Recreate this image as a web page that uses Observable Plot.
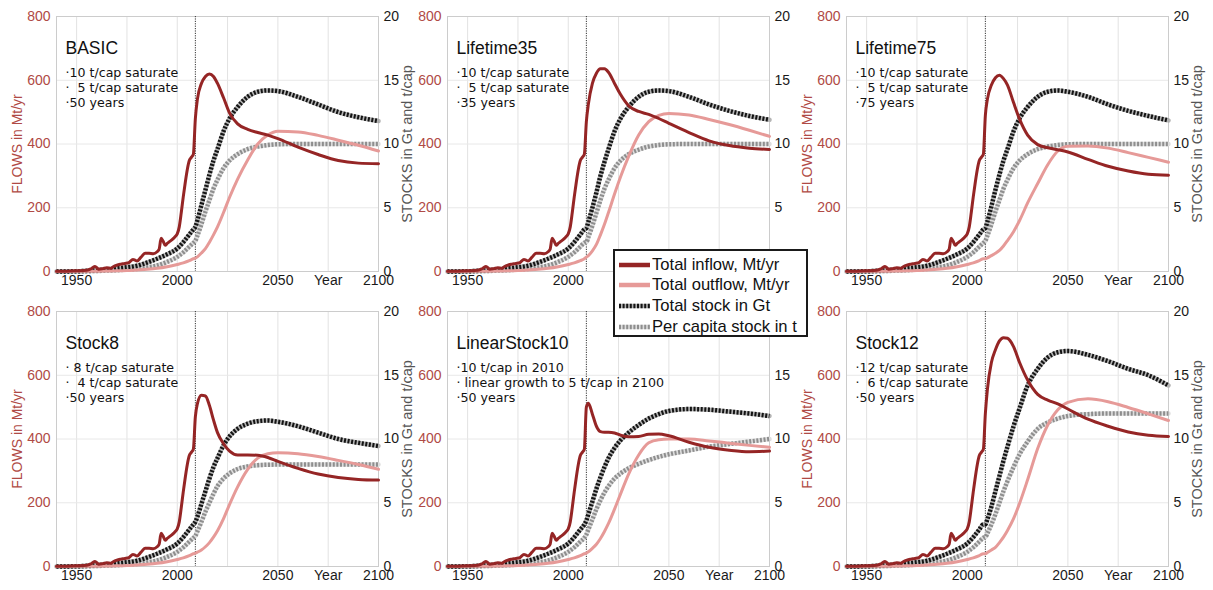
<!DOCTYPE html>
<html><head><meta charset="utf-8">
<script src="https://cdn.jsdelivr.net/npm/d3@7"></script>
<script src="https://cdn.jsdelivr.net/npm/@observablehq/plot@0.6"></script>
<style>
body{margin:0;background:#fff;}
#root{position:relative;width:1213px;height:590px;overflow:hidden;font-family:"Liberation Sans",Arial,sans-serif;}
.panel{position:absolute;}
.legend{position:absolute;left:613px;top:249px;width:191px;height:84px;border:2px solid #1a1a1a;background:#fff;padding:0;box-sizing:content-box;overflow:hidden;}
.legend .row{position:absolute;left:3px;height:21px;display:flex;align-items:center;font-size:16.6px;color:#111;white-space:nowrap;}
.legend svg{margin-right:1px;flex:none;}
</style></head><body><div id="root"></div>
<script>
// ---------- shared history (1940-2008) ----------
const histYearsIn = [1940,1945,1950,1955,1957,1959,1960,1961,1963,1965,1967,1968,1970,1972,1974,1976,1978,1979,1980,1982,1984,1986,1988,1990,1991,1992,1993,1994,1995,1996,1998,1999,2000,2001,2002,2003,2004,2005,2006,2007,2008];
const histInflow  = [1,1,2,4,8,16,12,7,9,12,10,14,20,23,25,28,38,36,33,45,57,57,56,62,70,104,95,82,88,93,103,110,118,140,185,235,280,320,348,358,368];
const histYears    = [1940,1950,1960,1965,1970,1975,1980,1985,1990,1995,2000,2003,2006,2008];
const histOutflow  = [0,0.5,1,1.5,2,3,5,7,10,15,22,27,34,40];
const histStock    = [0,0.02,0.1,0.15,0.25,0.33,0.45,0.7,1.0,1.35,1.8,2.3,2.9,3.3];
const histPerCap   = [0,0.01,0.04,0.07,0.1,0.15,0.2,0.32,0.47,0.75,1.15,1.5,1.95,2.25];

// ---------- scenario years (2009-2100) ----------
const futureYears = [2009,2010,2012,2014,2016,2018,2020,2023,2026,2030,2035,2040,2045,2050,2060,2070,2080,2090,2100];

const basicInflow  = [480,540,590,612,620,612,590,545,497,463,446,436,428,417,390,367,348,340,338];
const basicOutflow = [42,46,58,72,92,115,140,185,233,290,350,400,428,440,438,427,412,396,378];
const basicStock   = [3.5,4.0,5.2,6.4,7.6,8.7,9.6,11.0,12.0,12.9,13.7,14.1,14.2,14.15,13.7,13.1,12.5,12.1,11.8];
const basicPerCap  = [2.4,2.8,3.7,4.7,5.6,6.5,7.2,8.1,8.7,9.2,9.6,9.8,9.92,9.98,10,10,10,10,10];

const l35Inflow  = [470,525,590,622,636,636,625,590,555,520,502,493,480,465,436,410,395,387,383];
const l35Outflow = [45,50,65,85,115,148,185,243,297,361,428,470,490,496,491,477,461,443,424];
const l35Stock   = [3.4,3.9,5.0,6.2,7.5,8.6,9.6,11.0,12.0,12.9,13.7,14.1,14.2,14.15,13.7,13.1,12.6,12.2,11.9];
const l35PerCap  = [2.3,2.7,3.6,4.6,5.6,6.5,7.2,8.1,8.7,9.2,9.55,9.8,9.92,9.98,10,10,10,10,10];

const l75Inflow  = [490,540,585,608,616,605,585,530,478,428,398,388,382,375,352,330,315,305,302];
const l75Outflow = [40,43,50,57,66,80,97,125,160,215,276,335,378,393,394,387,373,358,343];
const l75Stock   = [3.4,3.9,5.1,6.4,7.6,8.7,9.6,11.0,12.0,12.9,13.7,14.1,14.2,14.1,13.7,13.1,12.6,12.2,11.85];
const l75PerCap  = [2.4,2.8,3.7,4.7,5.6,6.5,7.2,8.1,8.7,9.2,9.6,9.8,9.92,9.98,10,10,10,10,10];

const s8Inflow  = [470,510,537,535,505,460,420,385,362,350,350,349,342,330,308,290,279,273,271];
const s8Outflow = [42,45,52,62,75,92,112,150,195,250,305,340,354,357,354,345,333,320,305];
const s8Stock   = [3.5,3.9,4.9,5.9,6.9,7.8,8.5,9.5,10.2,10.8,11.2,11.4,11.45,11.35,11.0,10.5,10.0,9.7,9.45];
const s8PerCap  = [2.4,2.75,3.5,4.3,5.0,5.7,6.3,6.9,7.3,7.65,7.85,7.95,7.98,8,8,8,8,8,8];

const ls10Inflow  = [500,512,478,440,423,421,421,419,412,407,408,415,416,410,390,374,365,360,362];
const ls10Outflow = [42,46,57,70,88,110,135,180,228,290,350,388,398,400,400,394,387,380,374];
const ls10Stock   = [3.6,4.1,5.1,6.1,7.0,7.8,8.5,9.3,9.9,10.5,11.1,11.6,11.95,12.2,12.35,12.3,12.15,12.0,11.8];
const ls10PerCap  = [2.5,2.9,3.7,4.5,5.2,5.8,6.3,6.9,7.3,7.7,8.05,8.35,8.6,8.8,9.1,9.4,9.6,9.8,10.0];

const s12Inflow  = [480,555,640,680,708,718,716,690,640,585,540,522,510,494,462,440,422,412,408];
const s12Outflow = [40,44,52,60,75,92,113,150,198,272,370,444,492,515,526,517,499,479,458];
const s12Stock   = [3.3,3.7,4.7,5.9,7.1,8.3,9.4,11.0,12.4,14.2,15.5,16.4,16.8,16.9,16.6,16.1,15.5,15.0,14.2];
const s12PerCap  = [2.3,2.6,3.3,4.1,5.0,5.9,6.7,7.8,8.8,9.8,10.8,11.3,11.6,11.8,11.95,12,12,12,12];

// ---------- texts / ticks ----------
const panelNames = ["BASIC","Lifetime35","Lifetime75","Stock8","LinearStock10","Stock12"];
const panelNotes = [
  "·10 t/cap saturate\n·\u00a0\u00a05 t/cap saturate\n·50 years",
  "·10 t/cap saturate\n·\u00a0\u00a05 t/cap saturate\n·35 years",
  "·10 t/cap saturate\n·\u00a0\u00a05 t/cap saturate\n·75 years",
  "·\u00a08 t/cap saturate\n·\u00a0\u00a04 t/cap saturate\n·50 years",
  "·10 t/cap in 2010\n·\u00a0linear growth to 5 t/cap in 2100\n·50 years",
  "·12 t/cap saturate\n·\u00a0\u00a06 t/cap saturate\n·50 years"
];
const xTicks = [1950,2000,2050,2075,2100];
const xTicksHidden = [1950,2000];          // panel under the legend
const xGrid = [1950,1975,2000,2025,2050,2075];
const yTicks = [0,200,400,600,800];
const legendLabels = ["Total inflow, Mt/yr","Total outflow, Mt/yr","Total stock in Gt","Per capita stock in t"];
const flowLabel = "FLOWS in Mt/yr";
const stockLabel = "STOCKS in Gt and t/cap";
const cutYear = 2009;
const stockFactor = 40; // 20 on right axis == 800 on left axis

const scenarios = [
  [basicInflow,basicOutflow,basicStock,basicPerCap],
  [l35Inflow,l35Outflow,l35Stock,l35PerCap],
  [l75Inflow,l75Outflow,l75Stock,l75PerCap],
  [s8Inflow,s8Outflow,s8Stock,s8PerCap],
  [ls10Inflow,ls10Outflow,ls10Stock,ls10PerCap],
  [s12Inflow,s12Outflow,s12Stock,s12PerCap]
];

const RED = "#b04a45";
const INFLOW = "#952525";
const OUTFLOW = "#e69a98";

function series(hy, hv, fv){
  return hy.map((y,i)=>({year:y, v:hv[i]})).concat(futureYears.map((y,i)=>({year:y, v:fv[i]})));
}

const root = document.getElementById("root");
const lefts = [8, 399, 798];
const tops = [0, 295];

scenarios.forEach((sc, idx) => {
  const col = idx % 3, row = Math.floor(idx / 3);
  const inflow = series(histYearsIn, histInflow, sc[0]);
  const outflow = series(histYears, histOutflow, sc[1]);
  const stock = series(histYears, histStock, sc[2]);
  const percap = series(histYears, histPerCap, sc[3]);
  // ticks hidden behind the legend box in the reference
  const xt = (idx === 1) ? xTicksHidden : xTicks;
  const yr = (idx === 1) ? yTicks.filter(d => d > 0) : (idx === 4 ? yTicks.filter(d => d < 800) : yTicks);
  const dotted = (data, base, dots) => [
    Plot.line(data, {x:"year", y: d => d.v * stockFactor, stroke:base, strokeWidth:4.5, curve:"monotone-x"}),
    Plot.line(data, {x:"year", y: d => d.v * stockFactor, stroke:dots, strokeWidth:4.5, strokeDasharray:"2,1.6", strokeLinecap:"butt", curve:"monotone-x"})
  ];
  const marks = [
    Plot.gridX(xGrid, {stroke:"#e2e2e2", strokeOpacity:1}),
    Plot.gridY([200,400,600], {stroke:"#e8e8e8", strokeOpacity:1}),
    Plot.frame({stroke:"#cccccc"}),
    Plot.ruleX([cutYear], {stroke:"#333", strokeWidth:1, strokeDasharray:"1.2,1.2"}),
    Plot.axisX(xt, {tickSize:0, tickPadding:4, tickFormat: d => d === 2075 ? "Year" : String(d), fill:"#1a1a1a", color:"#1a1a1a", label:null, fontSize:14}),
    Plot.axisY(yTicks, {anchor:"left", tickSize:0, tickPadding:6, fill:RED, color:RED, label:null, fontSize:14}),
    Plot.axisY(yr, {anchor:"right", tickSize:0, tickPadding:5, tickFormat: d => String(d / stockFactor), fill:"#1a1a1a", color:"#1a1a1a", label:null, fontSize:14}),
    ...dotted(percap, "#dedede", "#8e8e8e"),
    ...dotted(stock, "#b5b5b5", "#141414"),
    Plot.line(outflow, {x:"year", y:"v", stroke:OUTFLOW, strokeWidth:3, curve:"monotone-x"}),
    Plot.line(inflow, {x:"year", y:"v", stroke:INFLOW, strokeWidth:3, curve:"monotone-x"}),
    Plot.text([panelNames[idx]], {frameAnchor:"top-left", dx:9, dy:32, lineAnchor:"middle", textAnchor:"start", fontSize:17.5, fill:"#111"}),
    Plot.text([panelNotes[idx]], {frameAnchor:"top-left", dx:9, dy:49, lineAnchor:"top", textAnchor:"start", fontSize:12.6, lineHeight:1.23, fill:"#111", fontFamily:"DejaVu Sans, Verdana, sans-serif"})
  ];
  if (col !== 1) {
    marks.push(Plot.text([flowLabel], {frameAnchor:"left", dx:-39, rotate:-90, textAnchor:"middle", lineAnchor:"middle", fontSize:14, fill:RED}));
    marks.push(Plot.text([stockLabel], {frameAnchor:"right", dx:29, rotate:-90, textAnchor:"middle", lineAnchor:"middle", fontSize:14.5, fill:"#555"}));
  }
  const chart = Plot.plot({
    width:410, height:295,
    marginLeft:48, marginRight:40, marginTop:16, marginBottom:24,
    style:{background:"transparent", fontFamily:"Liberation Sans, Arial, sans-serif", fontSize:"14px", overflow:"visible"},
    x:{domain:[1940,2100]},
    y:{domain:[0,800]},
    marks
  });
  chart.classList.add("panel");
  chart.style.left = lefts[col] + "px";
  chart.style.top = tops[row] + "px";
  chart.style.position = "absolute";
  root.appendChild(chart);
});

// ---------- legend ----------
const legendStyles = [
  [{stroke:INFLOW, w:4.5}],
  [{stroke:OUTFLOW, w:4.5}],
  [{stroke:"#b5b5b5", w:4.5}, {stroke:"#141414", w:4.5, dash:"2,1.6"}],
  [{stroke:"#dedede", w:4.5}, {stroke:"#8e8e8e", w:4.5, dash:"2,1.6"}]
];
const legend = document.createElement("div");
legend.className = "legend";
legendLabels.forEach((lab, i) => {
  const r = document.createElement("div");
  r.className = "row";
  r.style.top = (3 + i * 20.7) + "px";
  const svg = d3.create("svg").attr("width", 33).attr("height", 10);
  legendStyles[i].forEach(s => {
    svg.append("line").attr("x1", 1).attr("x2", 32).attr("y1", 5).attr("y2", 5)
      .attr("stroke", s.stroke).attr("stroke-width", s.w).attr("stroke-dasharray", s.dash || null);
  });
  r.appendChild(svg.node());
  r.appendChild(document.createTextNode(lab));
  legend.appendChild(r);
});
root.appendChild(legend);
</script>
</body></html>
